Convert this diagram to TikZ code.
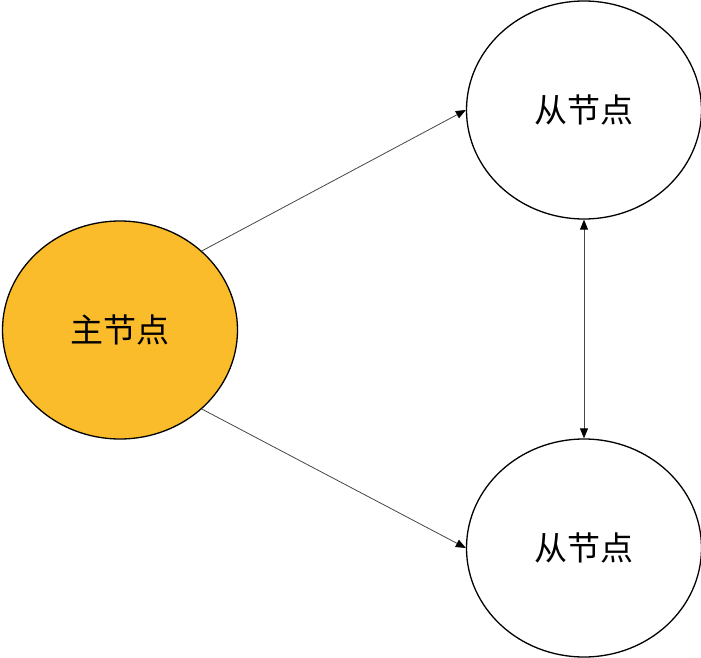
\documentclass[tikz,border=0pt]{standalone}
\usepackage{fontspec}
\newfontfamily\cjk{Noto Sans CJK SC}
\usepackage{xcolor}
\definecolor{mgold}{RGB}{251,188,44}
\definecolor{lgrey}{RGB}{70,70,70}
\usetikzlibrary{shapes.geometric,arrows.meta}
\tikzset{
  bubble/.style={ellipse,draw,line width=1.3pt,minimum width=235pt,minimum height=218pt,inner sep=0pt,font=\cjk\fontsize{33}{38}\selectfont},
  link/.style={draw=lgrey,line width=0.8pt,-{Triangle[length=10pt,width=8pt,color=black]}}
}

\begin{document}
\begin{tikzpicture}[x=1pt,y=1pt]
\useasboundingbox (0,0) rectangle (701,657);
\node [bubble,fill=mgold](master) at (120,327) {主节点};
\node [bubble,fill=white](slave1) at (584,547) {从节点};
\node [bubble,fill=white](slave2) at (584,109) {从节点};
\draw [link] (master.44) -- (slave1.west);
\draw [link] (master.-44) -- (slave2.west);
\draw [link,{Triangle[length=10pt,width=8pt,color=black]}-{Triangle[length=10pt,width=8pt,color=black]}] (slave1.south) -- (slave2.north);
\end{tikzpicture}
\end{document}
